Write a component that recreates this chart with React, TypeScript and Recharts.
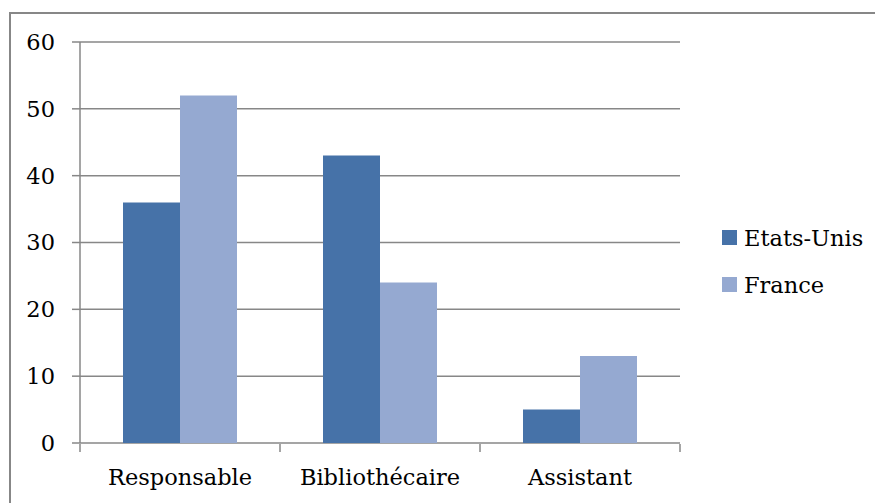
import React from 'react';
import { BarChart, Bar, XAxis, YAxis, CartesianGrid } from 'recharts';

const categories = ['Responsable', 'Bibliothécaire', 'Assistant'];
const etatsUnis = [36, 43, 5];
const france = [52, 24, 13];
const yTicks = [0, 10, 20, 30, 40, 50, 60];
const categoryEdges = [0, 1, 2, 3];
const seriesNames = ['Etats-Unis', 'France'];
const seriesColors = ['#4672A8', '#95A9D1'];

const data = categories.map((name, i) => ({
  name,
  slot: i + 0.5,
  etatsUnis: etatsUnis[i],
  france: france[i],
}));

const FONT = '"DejaVu Serif", serif';
const FONT_SIZE = 22.5;
const GRID = '#878787';

const LegendBox = () => (
  <div style={{ position: 'absolute', left: 722, top: 214, fontFamily: FONT, fontSize: FONT_SIZE, color: '#000' }}>
    {seriesNames.map((n, i) => (
      <div key={n} style={{ display: 'flex', alignItems: 'center', height: 47 }}>
        <span style={{ width: 15, height: 15, background: seriesColors[i], marginRight: 7, display: 'inline-block' }} />
        <span>{n}</span>
      </div>
    ))}
  </div>
);

export default function App() {
  return (
    <div style={{ position: 'fixed', left: 0, top: 0, width: 875, height: 503, background: '#fff', overflow: 'hidden' }}>
      <div style={{ position: 'absolute', left: 9, top: 12, width: 880, height: 500, border: `2px solid ${GRID}`, boxSizing: 'border-box' }} />
      <BarChart
        width={875}
        height={503}
        data={data}
        margin={{ top: 42, right: 195, left: 0, bottom: 58 }}
        barCategoryGap="21.5%"
        barGap={0}
        style={{ position: 'absolute', left: 0, top: 0 }}
      >
        <CartesianGrid vertical={false} stroke={GRID} strokeWidth={1.5} />
        <XAxis
          dataKey="name"
          height={1}
          axisLine={false}
          tickLine={false}
          tickMargin={20}
          tick={{ fill: '#000', fontFamily: FONT, fontSize: FONT_SIZE }}
        />
        {/* boundary ticks between categories */}
        <XAxis
          xAxisId="edges"
          dataKey="slot"
          type="number"
          domain={[0, 3]}
          ticks={categoryEdges}
          allowDataOverflow
          height={1}
          axisLine={false}
          tickLine={{ stroke: GRID, strokeWidth: 1.5 }}
          tickSize={8}
          tick={<g />}
        />
        <YAxis
          domain={[0, 60]}
          ticks={yTicks}
          width={80}
          axisLine={{ stroke: GRID, strokeWidth: 1.5 }}
          tickLine={{ stroke: GRID, strokeWidth: 1.5 }}
          tickSize={8}
          tickMargin={17}
          tick={{ fill: '#000', fontFamily: FONT, fontSize: FONT_SIZE }}
        />
        <Bar dataKey="etatsUnis" name={seriesNames[0]} fill={seriesColors[0]} isAnimationActive={false} />
        <Bar dataKey="france" name={seriesNames[1]} fill={seriesColors[1]} isAnimationActive={false} />
      </BarChart>
      <LegendBox />
    </div>
  );
}
